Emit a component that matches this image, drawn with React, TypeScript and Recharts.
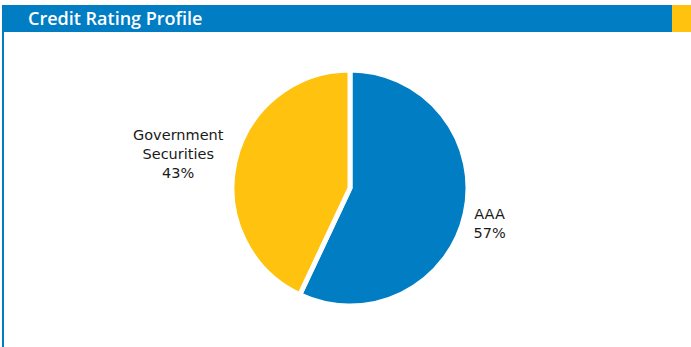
import { PieChart, Pie, Cell } from 'recharts';

const ratingNames = ['AAA', 'Government Securities'];
const ratingShares = [57, 43];
const ratingColors = ['#017DC4', '#FFC20E'];

const data = ratingNames.map((name, i) => ({ name, value: ratingShares[i], color: ratingColors[i] }));

const BLUE = '#017DC4';
const RADIAN = Math.PI / 180;

// AAA label sits closer than the two-line one on the left
const renderLabel = (props: any) => {
  const { cx, cy, midAngle, name, value } = props;
  const left = Math.cos(-midAngle * RADIAN) < 0;
  const r = left ? 176 : 143;
  const x = cx + r * Math.cos(-midAngle * RADIAN);
  const y = cy + r * Math.sin(-midAngle * RADIAN) + 4;
  const lines = name === 'Government Securities' ? ['Government', 'Securities'] : [name];
  lines.push(`${value}%`);
  const lh = 19;
  const top = y - ((lines.length - 1) * lh) / 2;
  return (
    <text
      x={x}
      y={top}
      textAnchor="middle"
      dominantBaseline="central"
      fill="#1a1a1a"
      fontSize={14.5}
      fontFamily="'DejaVu Sans', sans-serif"
    >
      {lines.map((l, i) => (
        <tspan key={i} x={x} y={top + i * lh}>
          {l}
        </tspan>
      ))}
    </text>
  );
};

export default function App() {
  return (
    <div style={{ position: 'fixed', left: 0, top: 0, width: 691, height: 347, background: '#fff', overflow: 'hidden' }}>
      <div style={{ position: 'absolute', left: 2, top: 5, width: 670, height: 27, background: BLUE }} />
      <div style={{ position: 'absolute', left: 672, top: 5, width: 19, height: 27, background: '#FFC20E' }} />
      <div style={{ position: 'absolute', left: 2, top: 32, width: 2, height: 315, background: BLUE }} />
      <div
        style={{
          position: 'absolute',
          left: 28,
          top: 5,
          height: 27,
          lineHeight: '27px',
          color: '#fff',
          fontFamily: "'Open Sans', sans-serif",
          fontWeight: 600,
          fontSize: 18,
        }}
      >
        Credit Rating Profile
      </div>
      <div style={{ position: 'absolute', left: 0, top: 0 }}>
        <PieChart width={691} height={347} margin={{ top: 0, right: 0, bottom: 0, left: 0 }}>
          <Pie
            data={data}
            dataKey="value"
            nameKey="name"
            cx={350}
            cy={188}
            outerRadius={118}
            startAngle={90}
            endAngle={-270}
            stroke="#fff"
            strokeWidth={5}
            label={renderLabel}
            labelLine={false}
            isAnimationActive={false}
          >
            {data.map((d, i) => (
              <Cell key={`cell-${i}`} fill={d.color} />
            ))}
          </Pie>
        </PieChart>
      </div>
    </div>
  );
}
